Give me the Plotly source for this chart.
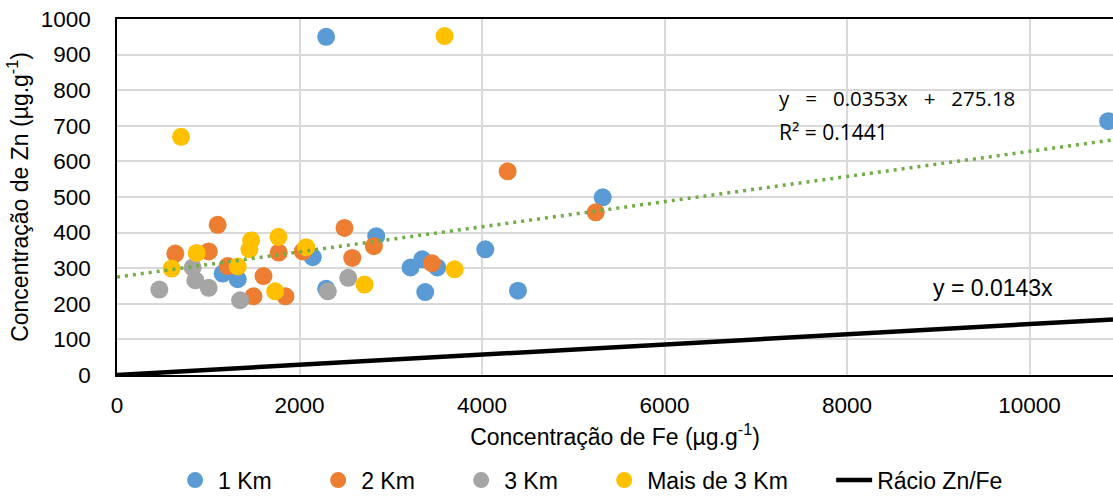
import plotly.graph_objects as go

# ---- data ----
fe_1km = [2292, 10862, 5323, 4036, 2841, 4394, 3378, 2145, 2292, 3217, 3345, 3510, 1158, 1323]
zn_1km = [950, 713, 499, 353, 390, 237, 233, 331, 242, 302, 325, 302, 285, 269]

fe_2km = [1103, 639, 1005, 1213, 1772, 1605, 1495, 1846, 2036, 2493, 2578, 2815, 3451, 4281, 5246]
zn_2km = [422, 341, 347, 306, 344, 278, 221, 221, 347, 413, 329, 362, 314, 572, 457]

fe_3km = [464, 829, 859, 1005, 1349, 2310, 2534]
zn_3km = [240, 302, 266, 245, 210, 235, 273]

fe_mais = [3590, 702, 599, 873, 1470, 1451, 1323, 1733, 1769, 2073, 2713, 3700]
zn_mais = [952, 669, 299, 343, 378, 353, 305, 235, 388, 359, 254, 297]

trend_slope = 0.0353
trend_intercept = 275.18
ratio_slope = 0.0143

x_max = 10915
x_ticks = [0, 2000, 4000, 6000, 8000, 10000]
y_ticks = [0, 100, 200, 300, 400, 500, 600, 700, 800, 900, 1000]

FONT = "Arial, Liberation Sans, sans-serif"
nb = "\u00a0"
PAD = nb * 6

fig = go.Figure()

series = [
    ("1 Km", fe_1km, zn_1km, "#5B9BD5"),
    ("2 Km", fe_2km, zn_2km, "#ED7D31"),
    ("3 Km", fe_3km, zn_3km, "#A5A5A5"),
    ("Mais de 3 Km", fe_mais, zn_mais, "#FFC000"),
]
for name, xs, ys, col in series:
    fig.add_trace(go.Scatter(
        x=xs, y=ys, mode="markers", name=name + PAD,
        marker=dict(size=18, color=col, line=dict(width=0)),
    ))

line_x = [0, x_max]
fig.add_trace(go.Scatter(
    x=line_x, y=[ratio_slope * v for v in line_x], mode="lines",
    name="Rácio Zn/Fe", line=dict(color="black", width=4.5),
))

fig.add_trace(go.Scatter(
    x=line_x, y=[trend_slope * v + trend_intercept for v in line_x], mode="lines",
    showlegend=False, line=dict(color="#70AD47", width=3.5, dash="3px,5px"),
))

fig.add_annotation(
    x=7235, y=778, xref="x", yref="y", xanchor="left", yanchor="middle",
    text=f"y{nb*3}={nb*3}0.0353x{nb*3}+{nb*3}275.18", showarrow=False,
    font=dict(family="Open Sans, Lato, sans-serif", size=20.5, color="black"),
)
fig.add_annotation(
    x=7235, y=683, xref="x", yref="y", xanchor="left", yanchor="middle",
    text="R² = 0.1441", showarrow=False,
    font=dict(family="Open Sans, Lato, sans-serif", size=21, color="black"),
)
fig.add_annotation(
    x=8920, y=243, xref="x", yref="y", xanchor="left", yanchor="middle",
    text="y = 0.0143x", showarrow=False,
    font=dict(family=FONT, size=23, color="black"),
)

fig.update_layout(
    width=1113, height=496,
    margin=dict(l=117, r=0, t=19, b=121, autoexpand=False),
    paper_bgcolor="white", plot_bgcolor="white",
    font=dict(family=FONT, size=22, color="black"),
    showlegend=True,
    legend=dict(
        orientation="h", x=0.475, xanchor="center",
        yref="container", y=0.032, yanchor="middle",
        font=dict(family=FONT, size=23, color="black"),
        itemwidth=36,
    ),
    xaxis=dict(
        range=[0, x_max], tickvals=x_ticks, ticktext=[str(v) for v in x_ticks],
        showgrid=True, gridcolor="#D9D9D9", gridwidth=1.7,
        showline=True, linecolor="black", linewidth=1.5, mirror=True,
        zeroline=False, ticks="", ticklabelstandoff=9,
        tickfont=dict(size=22.5),
        title=dict(text="Concentração de Fe (µg.g<sup>-1</sup>)", font=dict(size=23), standoff=12),
    ),
    yaxis=dict(
        range=[0, 1000], tickvals=y_ticks, ticktext=[str(v) for v in y_ticks],
        showgrid=True, gridcolor="#D9D9D9", gridwidth=1.7,
        showline=True, linecolor="black", linewidth=1.5,
        zeroline=False, ticks="", ticklabelstandoff=20,
        tickfont=dict(size=22.5),
        title=dict(text="Concentração de Zn (µg.g<sup>-1</sup>)", font=dict(size=23), standoff=6),
    ),
)

fig.write_html("out.html")
